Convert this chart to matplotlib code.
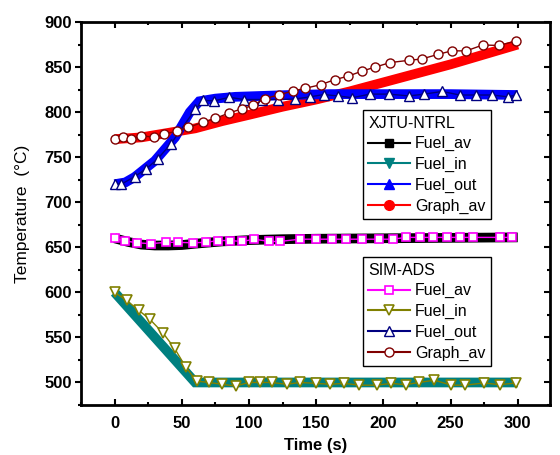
import matplotlib
matplotlib.use('Agg')
import matplotlib.pyplot as plt
from matplotlib.lines import Line2D
from matplotlib.ticker import MultipleLocator

plt.rcParams['font.family'] = ['Liberation Sans', 'DejaVu Sans']

# XJTU-NTRL results (drawn as thick solid bands)
xj_av_t = [0, 10, 20, 30, 40, 50, 60, 80, 100, 125, 150, 200, 250, 300]
xj_av = [660, 656, 653, 652, 652, 652.5, 654, 656.5, 658, 659, 659.5, 660, 660.5, 661]
xj_in_t = [0, 60, 300]
xj_in = [600, 500, 500]
xj_out_t = [0, 8, 15, 30, 45, 56, 63, 75, 90, 110, 130, 160, 200, 250, 300]
xj_out = [720, 722, 728, 746, 772, 800, 812, 815, 817, 818, 819, 820, 820, 820, 819]
xj_gr_t = [0, 20, 40, 60, 80, 100, 125, 150, 175, 200, 225, 250, 275, 300]
xj_gr = [770, 772, 777, 782, 790, 797, 806, 814, 823, 833, 843, 853, 864, 875]

# SIM-ADS results (open markers)
sim_av_t = [0, 8, 17, 27, 38, 47, 58, 68, 77, 86, 95, 104, 115, 123, 138, 150, 162,
            172, 184, 197, 207, 217, 227, 237, 247, 257, 267, 287, 296]
sim_av = [660, 657, 655, 654, 655.5, 655.5, 655, 655.5, 657.5, 657.5, 656.5, 659, 656.5,
          656.5, 659, 659, 659, 659, 659, 659, 659, 661, 661, 661, 661, 661, 661, 661, 661]
sim_in_t = [0, 9, 18, 26, 36, 44.6, 53, 61, 70, 80, 90, 100, 108, 117, 128, 138, 150,
            160.5, 171, 182, 195, 206, 216.5, 226.5, 238, 250.5, 261, 275, 286.5, 299]
sim_in = [600, 591, 580, 570.5, 555, 538, 517, 501.5, 500, 498, 496, 500, 500, 500, 498,
          500, 499, 498, 499, 497, 497, 499, 497.5, 500, 502.5, 497, 497, 499.5, 497.5, 499.5]
sim_out_t = [0, 5, 15, 23.5, 32, 42, 60, 66, 74, 85.5, 96, 110, 121.5, 134, 145.6, 155.5,
             166, 177, 190, 204, 219, 230.6, 243.8, 256.7, 269, 281, 292.6, 299]
sim_out = [720, 720, 728.5, 737, 748, 765, 803, 813, 812.5, 816.5, 814, 814, 814, 814.5,
           817, 819.5, 818, 816, 820, 820, 818, 820, 823, 819, 819, 819, 817, 819]
sim_gr_t = [0, 6, 12, 20, 29, 36.5, 46.6, 55, 66, 75, 85, 94.5, 103, 111.6, 122, 132.7,
            142, 153.5, 163.7, 174, 184, 194, 205, 219, 228.6, 240.5, 250.8, 261.7, 274, 286, 299]
sim_gr = [770, 772, 770, 774, 772, 775.5, 779, 783, 789, 793, 799, 803.5, 807.5, 815, 819,
          823.5, 826.5, 830.5, 836, 840, 845.5, 850, 855, 857.5, 859, 864, 868, 868, 874.5, 874, 879]

labels = ['Fuel_av', 'Fuel_in', 'Fuel_out', 'Graph_av']


def main():
    fig = plt.figure(figsize=(5.6, 4.55), dpi=100)
    ax = fig.add_axes([0.1446, 0.1099, 0.8375, 0.8417])

    band = dict(linewidth=7, solid_capstyle='butt', solid_joinstyle='miter')
    ax.plot(xj_av_t, xj_av, color='black', **band)
    ax.plot(xj_in_t, xj_in, color='#008080', **band)
    ax.plot(xj_gr_t, xj_gr, color='#ff0000', **band)
    ax.plot(xj_out_t, xj_out, color='#0000ff', **band)

    ms = 6
    ax.plot(sim_av_t, sim_av, color='#ff00ff', lw=1, marker='s', ms=ms - 0.5, mfc='white', mew=1.2)
    ax.plot(sim_in_t, sim_in, color='#808000', lw=1, marker='v', ms=ms + 1, mfc='white', mew=1.2)
    ax.plot(sim_out_t, sim_out, color='#000080', lw=1, marker='^', ms=ms + 1, mfc='white', mew=1)
    ax.plot(sim_gr_t, sim_gr, color='#800000', lw=1, marker='o', ms=ms + 0.5, mfc='white', mew=1)

    ax.set_xlim(-25, 324)
    ax.set_ylim(475, 900)
    ax.xaxis.set_major_locator(MultipleLocator(50))
    ax.xaxis.set_minor_locator(MultipleLocator(25))
    ax.yaxis.set_major_locator(MultipleLocator(50))
    ax.yaxis.set_minor_locator(MultipleLocator(25))

    for s in ax.spines.values():
        s.set_linewidth(2)
    ax.tick_params(axis='x', which='both', direction='in', top=True, width=1.5, pad=8)
    ax.tick_params(axis='y', which='both', direction='out', width=1.5, pad=2)
    ax.tick_params(which='major', length=4.5)
    ax.tick_params(which='minor', length=2.5)
    ax.tick_params(axis='y', which='both', right=True)
    for lab in ax.get_xticklabels() + ax.get_yticklabels():
        lab.set_fontweight('bold')
        lab.set_fontsize(12)
    # right axis ticks point inward
    for t in ax.yaxis.get_major_ticks() + ax.yaxis.get_minor_ticks():
        t.tick2line.set_marker(matplotlib.lines.TICKLEFT)

    ax.set_xlabel('Time (s)', fontsize=12, fontweight='bold', labelpad=5)
    ax.set_ylabel('Temperature  (\u00b0C)', fontsize=12.5, labelpad=10)

    h1 = [Line2D([], [], color='black', marker='s', ms=6),
          Line2D([], [], color='#008080', marker='v', ms=7),
          Line2D([], [], color='#0000ff', marker='^', ms=7),
          Line2D([], [], color='#ff0000', marker='o', ms=7)]
    h2 = [Line2D([], [], color='#ff00ff', marker='s', ms=5.5, mfc='white', mew=1.2),
          Line2D([], [], color='#808000', marker='v', ms=7, mfc='white', mew=1.2),
          Line2D([], [], color='#000080', marker='^', ms=7, mfc='white', mew=1),
          Line2D([], [], color='#800000', marker='o', ms=6.5, mfc='white', mew=1)]

    common = dict(fontsize=11.5, title_fontsize=11.5, fancybox=False, framealpha=1,
                  edgecolor='black', handlelength=2.6, handletextpad=0.3,
                  labelspacing=0.35, borderpad=0.35, borderaxespad=0,
                  alignment='left', loc='upper left')
    leg1 = ax.legend(h1, labels, title='XJTU-NTRL', bbox_to_anchor=(0.601, 0.770), **common)
    leg1.get_frame().set_linewidth(1)
    ax.add_artist(leg1)
    leg2 = ax.legend(h2, labels, title='SIM-ADS', bbox_to_anchor=(0.601, 0.386), **common)
    leg2.get_frame().set_linewidth(1)

    fig.savefig('out.png', dpi=100)


if __name__ == '__main__':
    main()
